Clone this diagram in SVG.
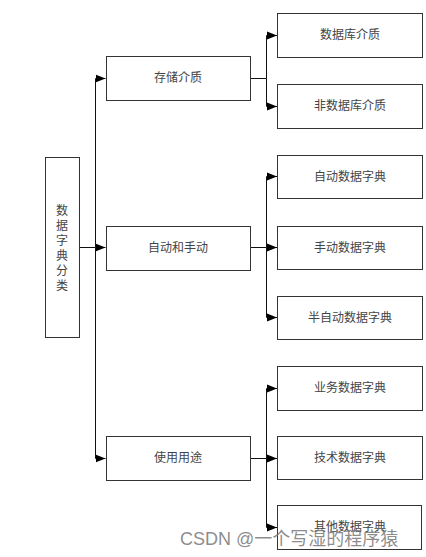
<svg xmlns="http://www.w3.org/2000/svg" width="426" height="557" viewBox="0 0 426 557">
<style>
.box{fill:#fff;stroke:#333;stroke-width:1}
.sh{fill:#888}
.lbl{font-family:"Liberation Sans","Noto Sans CJK SC",sans-serif;font-size:12px;fill:#444;text-anchor:middle;dominant-baseline:central}
.ln{fill:none;stroke:#111;stroke-width:1}
.wm{font-family:"Liberation Sans","Noto Sans CJK SC",sans-serif;font-size:18px;fill:#777;fill-opacity:0.85}
</style>
<defs>
<marker id="ah" markerUnits="userSpaceOnUse" markerWidth="10" markerHeight="10" refX="10" refY="5" orient="auto">
<path d="M0,1 L10,5 L0,9 Z" fill="#000"/>
</marker>
</defs>
<rect width="426" height="557" fill="#fff"/>
<g id="connectors">
<path class="ln" d="M79,247.5 H95.5 V78.5 H105.5" marker-end="url(#ah)"/>
<path class="ln" d="M95.5,247.5 H105.5" marker-end="url(#ah)"/>
<path class="ln" d="M95.5,247.5 V458.5 H105.5" marker-end="url(#ah)"/>
<path class="ln" d="M250,78.5 H266.5 V35.5 H277" marker-end="url(#ah)"/>
<path class="ln" d="M266.5,78.5 V106.5 H277" marker-end="url(#ah)"/>
<path class="ln" d="M250,247.5 H266.5 V176.5 H277" marker-end="url(#ah)"/>
<path class="ln" d="M266.5,247.5 H277" marker-end="url(#ah)"/>
<path class="ln" d="M266.5,247.5 V317.5 H277" marker-end="url(#ah)"/>
<path class="ln" d="M250,458.5 H266.5 V388.5 H277" marker-end="url(#ah)"/>
<path class="ln" d="M266.5,458.5 H277" marker-end="url(#ah)"/>
<path class="ln" d="M266.5,458.5 V527.5 H277" marker-end="url(#ah)"/>
</g>
<g id="root">
<rect class="box" x="45.5" y="157.5" width="34" height="180"/>
<text class="lbl" x="62"><tspan x="62" y="211">数</tspan><tspan x="62" y="226">据</tspan><tspan x="62" y="241">字</tspan><tspan x="62" y="256">典</tspan><tspan x="62" y="271">分</tspan><tspan x="62" y="286">类</tspan></text>
</g>
<g id="n-storage">
<rect class="box" x="106.5" y="56.5" width="144" height="44"/>
<text class="lbl" x="178" y="78">存储介质</text>
</g>
<g id="n-auto">
<rect class="box" x="106.5" y="226.5" width="144" height="44"/>
<text class="lbl" x="178" y="248">自动和手动</text>
</g>
<g id="n-usage">
<rect class="box" x="106.5" y="436.5" width="144" height="44"/>
<text class="lbl" x="178" y="458">使用用途</text>
</g>
<g id="n-db">
<rect class="box" x="277.5" y="13.5" width="145" height="44"/>
<text class="lbl" x="350" y="35">数据库介质</text>
</g>
<g id="n-nondb">
<rect class="box" x="277.5" y="84.5" width="145" height="44"/>
<text class="lbl" x="350" y="106">非数据库介质</text>
</g>
<g id="n-autodict">
<rect class="box" x="277.5" y="155.5" width="145" height="43"/>
<text class="lbl" x="350" y="177">自动数据字典</text>
</g>
<g id="n-manual">
<rect class="box" x="277.5" y="226.5" width="145" height="43"/>
<text class="lbl" x="350" y="248">手动数据字典</text>
</g>
<g id="n-semi">
<rect class="box" x="277.5" y="296.5" width="145" height="43"/>
<text class="lbl" x="350" y="318">半自动数据字典</text>
</g>
<g id="n-biz">
<rect class="box" x="277.5" y="366.5" width="145" height="44"/>
<text class="lbl" x="350" y="388">业务数据字典</text>
</g>
<g id="n-tech">
<rect class="box" x="277.5" y="436.5" width="145" height="43"/>
<text class="lbl" x="350" y="458">技术数据字典</text>
</g>
<g id="n-other">
<rect class="box" x="277.5" y="505.5" width="144" height="44"/>
<text class="lbl" x="350" y="527">其他数据字典</text>
</g>
<text class="wm" x="180" y="545">CSDN @一个写湿的程序猿</text>
</svg>
